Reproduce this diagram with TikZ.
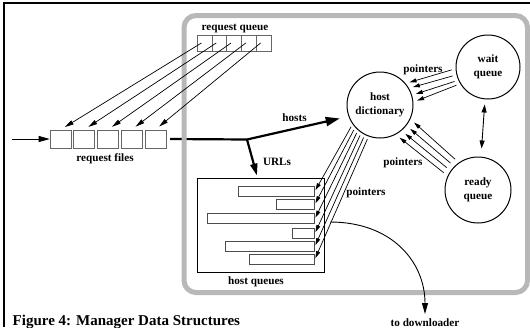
\documentclass[tikz,border=0pt]{standalone}
\usepackage{fontspec}
\setmainfont{Liberation Serif}
\usetikzlibrary{arrows.meta,calc}
\begin{document}
\begin{tikzpicture}[x=1pt,y=-1pt,
  lbl/.style={font=\fontsize{11.2}{13}\selectfont\bfseries, inner sep=0pt},
  cell/.style={draw=black!60, line width=0.6pt, minimum width=14.8pt, minimum height=16pt, inner sep=0pt},
  filebox/.style={draw=black!60, line width=0.6pt, minimum width=21pt, minimum height=18pt, inner sep=0pt},
  qbar/.style={draw=black!70, line width=0.6pt, minimum height=10pt, inner sep=0pt, anchor=east},
  circ/.style={circle, draw, line width=1pt, inner sep=0pt, align=center, font=\fontsize{11.2}{14}\selectfont\bfseries},
  ptr/.style={line width=0.7pt, -{Triangle[length=7pt,width=4pt]}},
  bigline/.style={line width=2.2pt},
]
\useasboundingbox (0,0) rectangle (530,327);
% outer frame
\draw[line width=2pt] (4.3,327) -- (4.3,2.5) -- (530,2.5);

% request files
\foreach \i in {1,...,5} {
  \node[filebox] (rf\i) at ({60.5+23.7*(\i-1)},139) {};
}
\node[lbl, anchor=base] (rflbl) at (105,161) {request files};
\coordinate (inA) at (12,139);
\draw[line width=0.8pt, -{Triangle[length=11pt,width=6pt]}] (inA) -- (rf1.west);

% thick line to fork
\coordinate (fork) at (247,139.5);
\draw[bigline] ([xshift=4pt]rf5.east) -- (fork);

% gray frame
\draw[line width=5pt, draw=black!28, rounded corners=12pt] (184,15.5) rectangle (527.5,292.5);

% request queue
\foreach \i in {1,...,5} {
  \node[cell] (rq\i) at ({197+14.8*(\i-0.5)},43) {};
}
\node[lbl, anchor=base] (rqlbl) at (235,30.5) {request queue};
\foreach \i in {1,...,5} {
  \draw[line width=0.7pt, -{Triangle[length=9pt,width=4.5pt]}, shorten >=5pt] ([xshift=-3pt]rq\i.center) -- (rf\i.north);
}

% circles
\node[circ, minimum size=66pt] (hd) at (380,105) {host\\dictionary};
\node[circ, minimum size=64pt] (wq) at (488,67) {wait\\queue};
\node[circ, minimum size=66pt] (rd) at (478,190) {ready\\queue};

% hosts and URLs
\draw[bigline, -{Triangle[length=14pt,width=9pt]}, shorten >=9pt] (fork) -- (hd.200);
\node[lbl, anchor=base] (hostslbl) at (294.5,121) {hosts};

% host queues
\node[draw, line width=1pt, minimum width=127pt, minimum height=94pt, inner sep=0pt] (hq) at (260.5,225) {};
\node[lbl, anchor=base] (hqlbl) at (256,284) {host queues};
\draw[bigline, -{Triangle[length=12pt,width=7pt]}, shorten >=2pt] (fork) -- ([xshift=-3pt]hq.north);
\node[lbl, anchor=base] (urlslbl) at (277,165) {URLs};

\node[qbar, minimum width=76pt] (b1) at (315,191) {};
\node[qbar, minimum width=38pt] (b2) at (315,204) {};
\node[qbar, minimum width=107pt] (b3) at (315,218.5) {};
\node[qbar, minimum width=22pt] (b4) at (315,233) {};
\node[qbar, minimum width=89pt] (b5) at (315,246) {};
\node[qbar, minimum width=65pt] (b6) at (315,259) {};

\foreach \a/\b in {215/b1,222/b2,229/b3,236/b4,243/b5,250/b6} {
  \draw[ptr, shorten <=3pt, shorten >=1pt] (hd.\a) -- (\b.east);
}
\node[lbl, anchor=base] (p3) at (366,195) {pointers};

% wait queue pointers
\foreach \s/\t in {183/40,194/30,204/17,211/5} {
  \draw[ptr, shorten <=4pt, shorten >=4pt] (wq.\s) -- (hd.\t);
}
\node[lbl, anchor=base] (p1) at (423,72) {pointers};

% ready queue pointers
\foreach \s/\t in {125/-25,135/-38,145/-50,155/-62} {
  \draw[ptr, shorten <=5pt, shorten >=5pt] (rd.\s) -- (hd.\t);
}
\node[lbl, anchor=base] (p2) at (403,165) {pointers};

% wait <-> ready
\draw[line width=0.9pt, {Triangle[length=8pt,width=5pt]}-{Triangle[length=8pt,width=5pt]}, shorten <=5pt, shorten >=8pt] ([xshift=-3pt]wq.south) -- ([xshift=3pt]rd.north);

% to downloader
\node[lbl, anchor=base] (dl) at (425,326) {to downloader};
\coordinate (dlstart) at (330,222);
\draw[line width=0.9pt, -{Triangle[length=11pt,width=6pt]}, shorten >=4pt] (dlstart) .. controls (392,222) and (425,262) .. (dl.north);

% caption
\node[font=\fontsize{15}{18}\selectfont\bfseries, inner sep=0pt, anchor=base west] (cap) at (12.5,325) {Figure 4: Manager Data Structures};
\end{tikzpicture}
\end{document}
